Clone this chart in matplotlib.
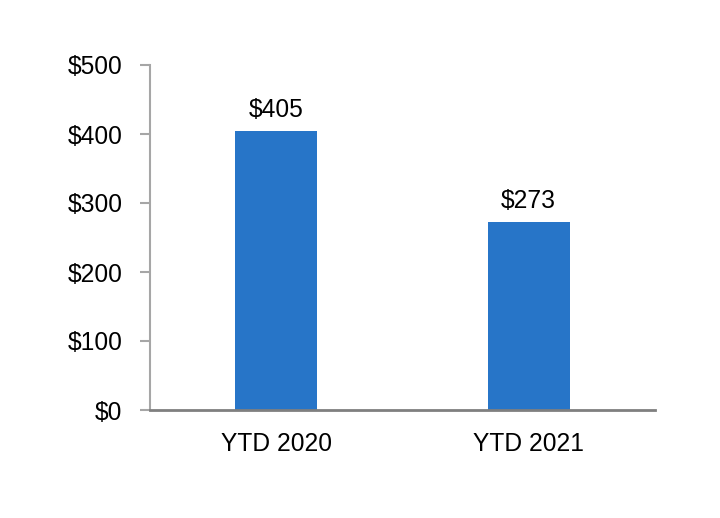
import matplotlib
matplotlib.use("Agg")
import matplotlib.pyplot as plt

categories = ["YTD 2020", "YTD 2021"]
values = [405, 273]
yticks = [0, 100, 200, 300, 400, 500]

plt.rcParams['font.family'] = ['Liberation Sans', 'DejaVu Sans']

fig = plt.figure(figsize=(7.2, 5.18), dpi=100)
ax = fig.add_axes([150/720, 1-410/518, 505/720, 345/518])
x = list(range(len(categories)))
bars = ax.bar(x, values, width=0.325, color="#2775C8", zorder=2)
for xi, v in zip(x, values):
    ax.text(xi, v + 12, f"${v}", ha="center", va="bottom", fontsize=17.7, color="black")

ax.set_xlim(-0.5, 1.5)
ax.set_ylim(0, 500)
ax.set_yticks(yticks)
ax.set_yticklabels([f"${t}" for t in yticks])
ax.set_xticks(x)
ax.set_xticklabels(categories)
ax.tick_params(axis='y', length=7.2, width=1.5, color="#A6A6A6", labelsize=17.7, pad=12.5)
ax.tick_params(axis='x', length=0, labelsize=17.7, pad=16)
for s in ["top", "right"]:
    ax.spines[s].set_visible(False)
ax.spines["left"].set_color("#A6A6A6")
ax.spines["left"].set_linewidth(1.5)
ax.spines["bottom"].set_color("#7F7F7F")
ax.spines["bottom"].set_linewidth(2)
ax.spines["bottom"].set_zorder(3)

fig.savefig("out.png", dpi=100)
